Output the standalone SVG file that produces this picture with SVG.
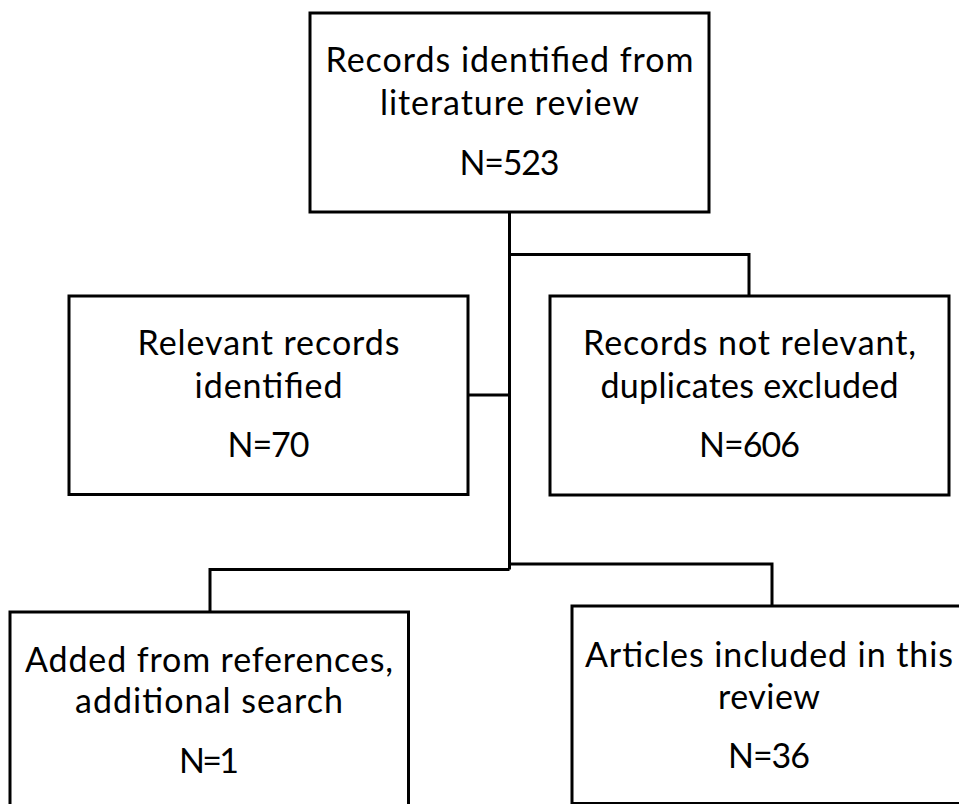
<svg xmlns="http://www.w3.org/2000/svg" width="959" height="804" viewBox="0 0 959 804">
<style>
.box{fill:#fff;stroke:#000;stroke-width:3}
.conn{fill:none;stroke:#000;stroke-width:3;stroke-linejoin:miter}
text{font-family:Lato,"Open Sans","Liberation Sans",sans-serif;font-size:34px;fill:#000;text-anchor:middle}
</style>
<rect width="959" height="804" fill="#fff"/>
<g id="connectors">
<path class="conn" d="M509.5,212 V569.5"/>
<path class="conn" d="M509.5,254.5 H749 V296"/>
<path class="conn" d="M468,395 H509.5"/>
<path class="conn" d="M509.5,569.5 H210 V612"/>
<path class="conn" d="M509.5,564 H772 V606"/>
</g>
<g id="n1">
<rect class="box" x="310" y="13" width="399" height="199"/>
<text x="509.5" y="71.5" textLength="368">Records identified from</text>
<text x="509.5" y="115" textLength="259">literature review</text>
<text x="509.5" y="175" textLength="100">N=523</text>
</g>
<g id="n2">
<rect class="box" x="69" y="296" width="399" height="198.5"/>
<text x="268.5" y="355" textLength="262">Relevant records</text>
<text x="268.5" y="398" textLength="148">identified</text>
<text x="268.5" y="457" textLength="82">N=70</text>
</g>
<g id="n3">
<rect class="box" x="550" y="296" width="399" height="199"/>
<text x="749.5" y="355" textLength="333">Records not relevant,</text>
<text x="749.5" y="397.5" textLength="298">duplicates excluded</text>
<text x="749.5" y="457" textLength="101">N=606</text>
</g>
<g id="n4">
<rect class="box" x="10" y="612" width="398.5" height="230"/>
<text x="209" y="671.5" textLength="368">Added from references,</text>
<text x="209" y="713" textLength="268">additional search</text>
<text x="209" y="773" textLength="60">N=1</text>
</g>
<g id="n5">
<rect class="box" x="572" y="606" width="410" height="197.5"/>
<text x="769" y="667" textLength="368">Articles included in this</text>
<text x="769" y="708.5" textLength="102">review</text>
<text x="769" y="768" textLength="82">N=36</text>
</g>
</svg>
